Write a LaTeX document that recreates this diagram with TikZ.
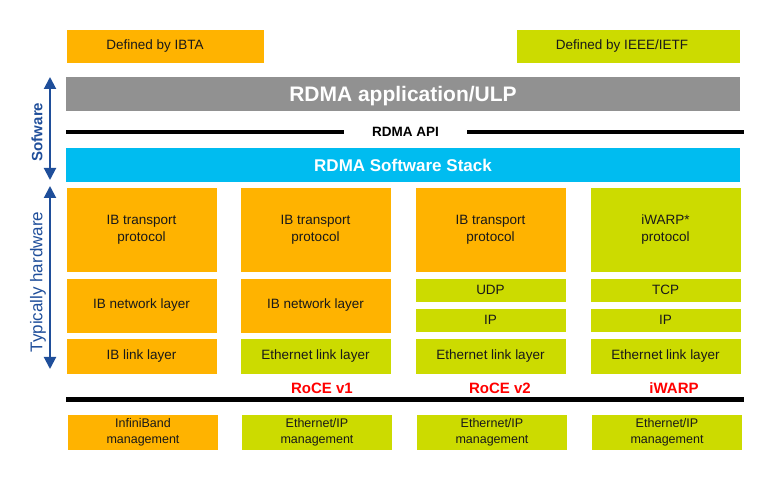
\documentclass[tikz,border=0pt]{standalone}
\usepackage{fontspec}
\setmainfont{Liberation Sans}
\usepackage{xcolor}
\usepackage{tikz}
\usetikzlibrary{arrows.meta}

\definecolor{ibtaorange}{HTML}{FFB300}
\definecolor{ietfgreen}{HTML}{CCDB00}
\definecolor{appgrey}{HTML}{919191}
\definecolor{stackblue}{HTML}{00BCF0}
\definecolor{sidebue}{HTML}{1F4E9A}

\tikzset{
  layer/.style={rectangle, draw=white, line width=0.6pt, inner sep=0pt, align=center,
    text=black!90, font=\fontsize{13.5}{17}\selectfont},
  ibta/.style={layer, fill=ibtaorange},
  ietf/.style={layer, fill=ietfgreen},
  mgt/.style={font=\fontsize{12.5}{16}\selectfont},
  bar/.style={rectangle, inner sep=0pt, minimum width=674pt, minimum height=34pt,
    text depth=0pt, text=white, font=\bfseries},
  family/.style={text=red, font=\fontsize{15}{17}\selectfont\bfseries},
  side/.style={draw=sidebue, line width=2pt, {Triangle[width=12pt,length=12pt]}-{Triangle[width=12pt,length=12pt]}},
  sidelabel/.style={text=sidebue, rotate=90}
}

\begin{document}
\begin{tikzpicture}[x=1pt, y=-1pt]
  \useasboundingbox (0,0) rectangle (777,478);

  % Legend
  \node[ibta, minimum width=198pt, minimum height=34pt] (legibta) at (165,46) {\hspace*{-20pt}Defined by IBTA};
  \node[ietf, minimum width=224pt, minimum height=34pt] (legietf) at (628,46) {\hspace*{-12pt}Defined by IEEE/IETF};

  % Application and API
  \node[bar, fill=appgrey, font=\fontsize{21}{24}\selectfont\bfseries] (app) at (403,94) {RDMA application/ULP};
  \node[minimum width=123pt, inner sep=0pt, font=\fontsize{13.5}{15}\selectfont\bfseries] (api) at (405.5,132) {RDMA API};
  \coordinate (apil) at (66,132);
  \coordinate (apir) at (744,132);
  \draw[line width=4.5pt] (apil) -- (api.west);
  \draw[line width=4.5pt] (api.east) -- (apir);

  % Software stack
  \node[bar, fill=stackblue, font=\fontsize{17}{20}\selectfont\bfseries] (stack) at (403,165) {RDMA Software Stack};

  % Transport layers
  \node[ibta, minimum width=151pt, minimum height=85pt] (tra1) at (141.5,229.5) {IB transport\\protocol};
  \node[ibta, minimum width=151pt, minimum height=85pt] (tra2) at (315.5,229.5) {IB transport\\protocol};
  \node[ibta, minimum width=151pt, minimum height=85pt] (tra3) at (490.5,229.5) {IB transport\\protocol};
  \node[ietf, minimum width=151pt, minimum height=85pt] (tra4) at (665.5,229.5) {iWARP*\\protocol};

  % Network layers
  \node[ibta, minimum width=151pt, minimum height=55pt] (net1) at (141.5,305.5) {IB network layer};
  \node[ibta, minimum width=151pt, minimum height=55pt] (net2) at (315.5,305.5) {IB network layer};
  \node[ietf, minimum width=151pt, minimum height=24pt] (udp3) at (490.5,290) {UDP};
  \node[ietf, minimum width=151pt, minimum height=24pt] (ip3) at (490.5,320) {IP};
  \node[ietf, minimum width=151pt, minimum height=24pt] (tcp4) at (665.5,290) {TCP};
  \node[ietf, minimum width=151pt, minimum height=24pt] (ip4) at (665.5,320) {IP};

  % Link layers
  \node[ibta, minimum width=151pt, minimum height=36pt] (lnk1) at (141.5,356) {IB link layer};
  \node[ietf, minimum width=151pt, minimum height=36pt] (lnk2) at (315.5,356) {Ethernet link layer};
  \node[ietf, minimum width=151pt, minimum height=36pt] (lnk3) at (490.5,356) {Ethernet link layer};
  \node[ietf, minimum width=151pt, minimum height=36pt] (lnk4) at (665.5,356) {Ethernet link layer};

  % Names
  \node[family] (rocev1) at (322,388) {RoCE v1};
  \node[family] (rocev2) at (500,388) {RoCE v2};
  \node[family] (iwarp) at (674,388) {iWARP};

  % Separator
  \coordinate (sepl) at (66,399.5);
  \coordinate (sepr) at (744,399.5);
  \draw[line width=5pt] (sepl) -- (sepr);

  % Management
  \node[ibta, mgt, minimum width=151pt, minimum height=36pt] (mgt1) at (143,432) {InfiniBand\\management};
  \node[ietf, mgt, minimum width=151pt, minimum height=36pt] (mgt2) at (317,432) {Ethernet/IP\\management};
  \node[ietf, mgt, minimum width=151pt, minimum height=36pt] (mgt3) at (492,432) {Ethernet/IP\\management};
  \node[ietf, mgt, minimum width=151pt, minimum height=36pt] (mgt4) at (667,432) {Ethernet/IP\\management};

  % Side arrows
  \coordinate (swtop) at (50,77);
  \coordinate (swbot) at (50,180);
  \coordinate (hwtop) at (50,186);
  \coordinate (hwbot) at (50,369);
  \draw[side] (swtop) -- (swbot);
  \draw[side] (hwtop) -- (hwbot);
  \node[sidelabel, font=\fontsize{15}{17}\selectfont\bfseries] (swlabel) at (37,132) {Sofware};
  \node[sidelabel, font=\fontsize{17}{19}\selectfont] (hwlabel) at (38,282) {Typically hardware};
\end{tikzpicture}
\end{document}
